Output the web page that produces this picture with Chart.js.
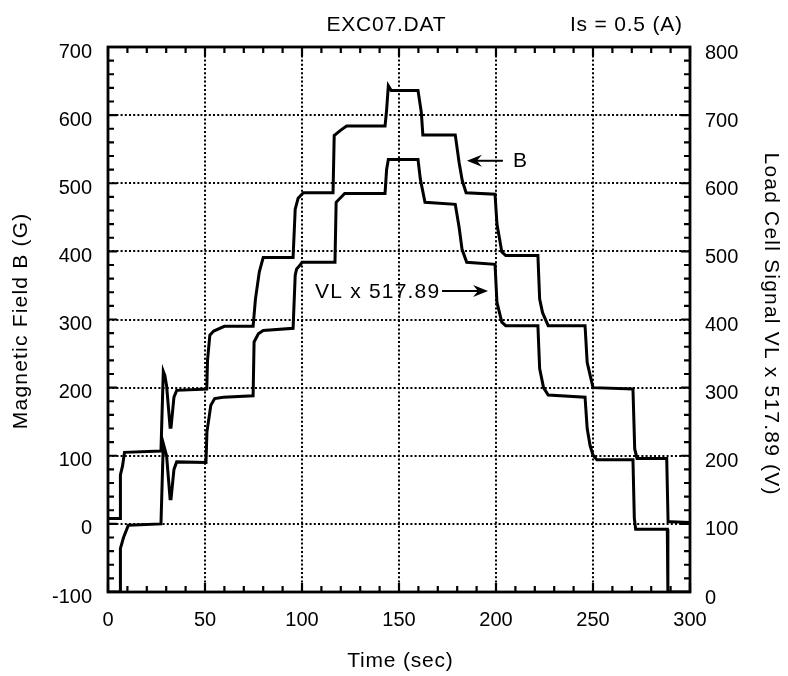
<!DOCTYPE html>
<html>
<head>
<meta charset="utf-8">
<script src="https://cdn.jsdelivr.net/npm/chart.js@4"></script>
<style>
  html, body { margin: 0; padding: 0; background: #fff; }
</style>
</head>
<body>
<canvas id="chart" width="788" height="676"></canvas>
<script>
// B (G), left axis
const bTime = [0, 6.2, 6.4, 7.5, 8.5, 27.3, 28.5, 29.3, 30.2, 32, 32.5, 34, 35.4, 50.9, 51.3, 52.5, 54.5, 60,
  74.8, 76, 78, 80, 95.4, 96.5, 98, 100.7, 116, 116.6, 120, 123, 142.8, 143.6, 144.5, 146, 159.8, 161.5, 162.3,
  179, 181, 182.6, 184.6, 199.5, 200.5, 203, 205, 221.6, 222.5, 224, 226.9, 245.9, 247, 250, 270.6, 271.5,
  272.7, 288, 288.7, 290, 300];
const bField = [8, 8, 72, 85, 105, 107, 224, 218, 203, 142, 142, 186, 196, 198, 240, 277, 283, 290,
  290, 330, 370, 391, 391, 462, 478, 486, 486, 570, 578, 584, 584, 607, 643, 636, 636, 604, 571,
  571, 530, 504, 486, 484, 440, 399, 394, 394, 330, 310, 291, 291, 237, 200, 198, 110,
  96, 96, 3, 3, 2];

// VL x 517.89 (V), right axis
const vlTime = [0, 6.2, 6.4, 8, 10.5, 27.3, 28.5, 30.2, 32, 32.5, 34, 35.4, 50.5, 51, 53, 55, 59.4,
  74.8, 75.3, 77.5, 80, 95.4, 96.5, 97.2, 99, 100, 117, 117.6, 120, 122, 142.8, 143.6, 144.5, 159.8, 161,
  163.4, 179, 181, 182.5, 184.9, 199.5, 200.5, 203, 205, 221.6, 222.5, 224.5, 226.9, 245.9, 247, 248.5,
  250, 252, 270.6, 271.3, 272, 288.3, 288.6, 300];
const vlSignal = [0, 0, 64, 80, 98, 100, 218, 200, 137, 137, 180, 191, 190, 235, 274, 284, 286,
  288, 367, 379, 384, 387, 465, 474, 480, 484, 484, 572, 579, 585, 585, 620, 635, 635, 606,
  572, 569, 535, 503, 484, 481, 425, 396, 391, 391, 328, 300, 289, 286, 240, 215,
  201, 194, 194, 108, 92, 92, 0, 0];

const FONT = '"Liberation Sans", Arial, Helvetica, sans-serif';
const tickFont = { family: FONT, size: 20 };

const toPoints = (xs, ys) => xs.map((x, i) => ({ x, y: ys[i] }));

function spacedText(ctx, text, x, y, align, spacing) {
  ctx.letterSpacing = spacing + 'px';
  let w = ctx.measureText(text).width - spacing;
  let sx = align === 'center' ? x - w / 2 : align === 'right' ? x - w : x;
  ctx.textAlign = 'left';
  ctx.fillText(text, sx, y);
  ctx.letterSpacing = '0px';
}

function arrow(ctx, x1, x2, y) {
  // line from x1 to head tip at x2
  const dir = Math.sign(x2 - x1);
  ctx.beginPath();
  ctx.moveTo(x1, y);
  ctx.lineTo(x2 - dir * 10, y);
  ctx.lineWidth = 2;
  ctx.stroke();
  ctx.beginPath();
  ctx.moveTo(x2, y);
  ctx.lineTo(x2 - dir * 15, y - 6);
  ctx.lineTo(x2 - dir * 10, y);
  ctx.lineTo(x2 - dir * 15, y + 6);
  ctx.closePath();
  ctx.fill();
}

const frame = {
  id: 'frame',
  afterDraw(chart) {
    const { ctx, chartArea: a, scales } = chart;
    const { x, y, y1 } = scales;
    ctx.save();
    ctx.strokeStyle = '#000';
    ctx.fillStyle = '#000';
    ctx.lineWidth = 2.8;
    ctx.strokeRect(a.left, a.top, a.right - a.left, a.bottom - a.top);

    // inward ticks
    ctx.lineWidth = 2.2;
    ctx.beginPath();
    for (let t = 0; t <= 300; t += 10) {
      const px = x.getPixelForValue(t);
      const len = t % 50 === 0 ? 9 : 6;
      ctx.moveTo(px, a.bottom); ctx.lineTo(px, a.bottom - len);
      ctx.moveTo(px, a.top); ctx.lineTo(px, a.top + len);
    }
    for (let v = -100; v <= 700; v += 20) {
      const py = y.getPixelForValue(v);
      const len = v % 100 === 0 ? 9 : 6;
      ctx.moveTo(a.left, py); ctx.lineTo(a.left + len, py);
    }
    for (let v = 0; v <= 800; v += 20) {
      const py = y1.getPixelForValue(v);
      const len = v % 100 === 0 ? 9 : 6;
      ctx.moveTo(a.right, py); ctx.lineTo(a.right - len, py);
    }
    ctx.stroke();

    ctx.font = '21px ' + FONT;
    ctx.textBaseline = 'middle';

    // header
    spacedText(ctx, 'EXC07.DAT', 386, 25, 'center', 0.8);
    spacedText(ctx, 'Is = 0.5 (A)', 682, 25, 'right', 0.8);

    // axis titles
    const cx = (a.left + a.right) / 2, cy = (a.top + a.bottom) / 2;
    spacedText(ctx, 'Time (sec)', cx + 1, 661, 'center', 0.8);
    ctx.save();
    ctx.translate(21, cy + 2);
    ctx.rotate(-Math.PI / 2);
    spacedText(ctx, 'Magnetic Field B (G)', 0, 0, 'center', 1.2);
    ctx.restore();
    ctx.save();
    ctx.translate(771, cy + 4);
    ctx.rotate(Math.PI / 2);
    spacedText(ctx, 'Load Cell Signal VL x 517.89 (V)', 0, 0, 'center', 1.2);
    ctx.restore();

    // annotations
    const bx = x.getPixelForValue(185), by = y.getPixelForValue(533);
    arrow(ctx, bx + 36, bx, by);
    spacedText(ctx, 'B', bx + 46, by, 'left', 0);
    const vx = x.getPixelForValue(195.9), vy = y.getPixelForValue(342);
    arrow(ctx, vx - 46, vx, vy);
    spacedText(ctx, 'VL x 517.89', vx - 173, vy + 1, 'left', 1.2);
    ctx.restore();
  }
};

new Chart(document.getElementById('chart'), {
  type: 'scatter',
  data: {
    datasets: [
      {
        label: 'B',
        data: toPoints(bTime, bField),
        yAxisID: 'y',
        showLine: true,
        borderColor: '#000',
        borderWidth: 3,
        pointRadius: 0,
        tension: 0
      },
      {
        label: 'VL x 517.89',
        data: toPoints(vlTime, vlSignal),
        yAxisID: 'y1',
        showLine: true,
        borderColor: '#000',
        borderWidth: 3,
        pointRadius: 0,
        tension: 0
      }
    ]
  },
  options: {
    responsive: false,
    devicePixelRatio: 1,
    animation: false,
    layout: { padding: { top: 47, left: 0, right: 0, bottom: 0 } },
    plugins: { legend: { display: false }, tooltip: { enabled: false } },
    scales: {
      x: {
        type: 'linear',
        min: 0, max: 300,
        afterFit: (s) => { s.height = 84; },
        ticks: { stepSize: 50, color: '#000', font: tickFont, padding: 16, maxRotation: 0 },
        grid: { color: '#000', lineWidth: 2, drawTicks: false },
        border: { display: false, dash: [2, 2.2] }
      },
      y: {
        position: 'left',
        min: -100, max: 700,
        afterFit: (s) => { s.width = 108; },
        ticks: { stepSize: 100, color: '#000', font: tickFont, padding: 16, labelOffset: 5 },
        grid: { color: '#000', lineWidth: 2, drawTicks: false },
        border: { display: false, dash: [2, 2.2] }
      },
      y1: {
        position: 'right',
        min: 0, max: 800,
        afterFit: (s) => { s.width = 98; },
        ticks: { stepSize: 100, color: '#000', font: tickFont, padding: 15, labelOffset: 6 },
        grid: { drawOnChartArea: false, drawTicks: false },
        border: { display: false }
      }
    }
  },
  plugins: [frame]
});
</script>
</body>
</html>
